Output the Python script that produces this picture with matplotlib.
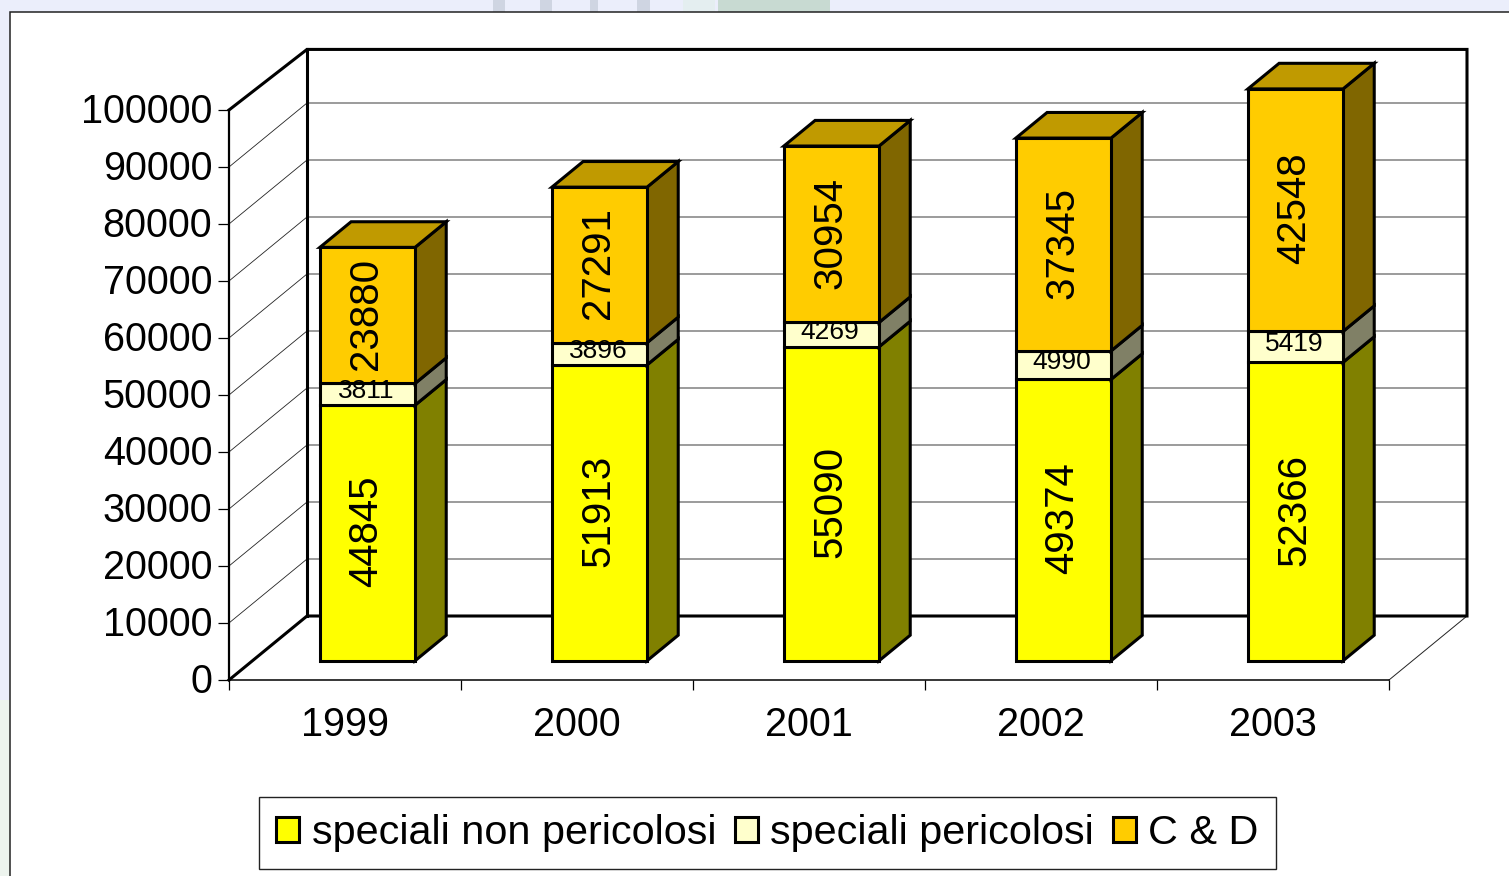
import matplotlib
matplotlib.use("Agg")
import matplotlib.pyplot as plt
from matplotlib.patches import Polygon, Patch, Rectangle
from matplotlib.transforms import ScaledTranslation

plt.rcParams['font.family'] = ['Liberation Sans', 'DejaVu Sans']

# dati
years = ['1999', '2000', '2001', '2002', '2003']
non_pericolosi = [44845, 51913, 55090, 49374, 52366]
pericolosi = [3811, 3896, 4269, 4990, 5419]
c_d = [23880, 27291, 30954, 37345, 42548]
series = [non_pericolosi, pericolosi, c_d]
series_names = ['speciali non pericolosi', 'speciali pericolosi', 'C & D']
yticks = list(range(0, 100001, 10000))

# colori: fronte, lato, sopra
front_colors = ['#FFFF00', '#FFFFCC', '#FFCC00']
side_colors = ['#808000', '#808066', '#806600']
top_color = '#C09A00'

W, H = 1509, 876
DEPTH_DX = 78 / 232   # profondita' in unita' di categoria
DEPTH_DY = 64 / 570 * 100000  # profondita' in unita' di valore
BAR_W = 0.41
D_FRONT, D_BACK = 0.30, 0.70


def pr(x, y, d=0.0):
    """Proietta (categoria, valore, profondita') sul piano dell'asse."""
    return (x + d * DEPTH_DX, y + d * DEPTH_DY)


def draw_background(fig):
    """Sfondo della diapositiva che si intravede attorno al pannello."""
    def band(x0, x1, y0, y1, color):
        fig.add_artist(Rectangle((x0 / W, 1 - y1 / H), (x1 - x0) / W, (y1 - y0) / H,
                                 transform=fig.transFigure, fc=color, ec='none', zorder=-2))
    for x0, x1 in [(493, 505), (540, 552), (590, 598), (637, 650)]:
        band(x0, x1, 0, 12, '#CFD5E2')
    band(683, 715, 0, 12, '#E4EEF0')
    band(718, 830, 0, 12, '#C8DAD2')
    band(0, 10, 700, 876, '#EDF4EE')
    fig.add_artist(Rectangle((10 / W, -0.01), 1.0, 1 - 12 / H + 0.01, transform=fig.transFigure,
                             fc='white', ec='#222222', lw=1.1, zorder=-1))


def draw_walls(ax):
    top = 99400  # il bordo alto della parete cade poco sotto i 100000
    for v in yticks[1:-1]:
        ax.plot(*zip(pr(0, v, 1), pr(5, v, 1)), color='#808080', lw=1.1, zorder=2, clip_on=False)
    for v in yticks[1:-1]:
        ax.plot(*zip(pr(0, v), pr(0, v, 1)), color='#222222', lw=0.6, zorder=2, clip_on=False)
    ax.plot(*zip(pr(5, 0), pr(5, 0, 1)), color='#222222', lw=0.7, zorder=2, clip_on=False)
    outline = [pr(0, 0), pr(0, 0, 1), pr(5, 0, 1), pr(5, top, 1), pr(0, top, 1), pr(0, 100000)]
    ax.plot(*zip(*outline), color='black', lw=2.2, zorder=3, clip_on=False,
            solid_joinstyle='miter')
    ax.plot(*zip(pr(0, 0, 1), pr(0, top, 1)), color='black', lw=2.2, zorder=3, clip_on=False)


def draw_bar(ax, i):
    left = i + 0.5 - 0.004 - BAR_W / 2
    right = left + BAR_W
    base = 0
    for k, values in enumerate(series):
        val = values[i]
        tip = base + val
        style = dict(closed=True, ec='black', lw=2.2, joinstyle='miter', zorder=4, clip_on=False)
        ax.add_patch(Polygon([pr(right, base, D_FRONT), pr(right, base, D_BACK),
                              pr(right, tip, D_BACK), pr(right, tip, D_FRONT)],
                             fc=side_colors[k], **style))
        ax.add_patch(Polygon([pr(left, base, D_FRONT), pr(right, base, D_FRONT),
                              pr(right, tip, D_FRONT), pr(left, tip, D_FRONT)],
                             fc=front_colors[k], **style))
        cx, cy = pr((left + right) / 2 - 0.006, base + val / 2, D_FRONT)
        if val > 10000:
            ax.text(cx, cy + 300, str(val), rotation=90, ha='center', va='center',
                    fontsize=29, zorder=6, clip_on=False)
        else:
            ax.text(cx, cy + 500, str(val), ha='center', va='center',
                    fontsize=19, zorder=6, clip_on=False)
        base = tip
    ax.add_patch(Polygon([pr(left, base, D_FRONT), pr(right, base, D_FRONT),
                          pr(right, base, D_BACK), pr(left, base, D_BACK)],
                         closed=True, fc=top_color, ec='black', lw=2.2,
                         joinstyle='miter', zorder=4, clip_on=False))


def main():
    fig = plt.figure(figsize=(W / 100, H / 100), dpi=100, facecolor='#EBEEFB')
    draw_background(fig)

    ax = fig.add_axes([229 / W, 1 - 680 / H, (1389 - 229) / W, 570 / H])
    ax.patch.set_alpha(0)
    ax.set_xlim(0, 5)
    ax.set_ylim(0, 100000)
    for s in ('top', 'right'):
        ax.spines[s].set_visible(False)
    ax.spines['left'].set_linewidth(1.6)
    ax.spines['bottom'].set_linewidth(1.1)

    ax.set_yticks(yticks)
    ax.set_yticklabels([str(v) for v in yticks], fontsize=28.5)
    ax.tick_params(axis='y', length=8, width=0.9, pad=4)
    # le etichette stanno un paio di pixel sopra la tacca
    up = ScaledTranslation(0, 2 / 100, fig.dpi_scale_trans)
    for lab in ax.get_yticklabels():
        lab.set_transform(lab.get_transform() + up)
    ax.set_xticks(range(6))
    ax.set_xticklabels([''] * 6)
    ax.tick_params(axis='x', which='major', length=7, width=0.9)
    ax.set_xticks([i + 0.5 for i in range(5)], minor=True)
    ax.set_xticklabels(years, minor=True, fontsize=28.5)
    ax.tick_params(axis='x', which='minor', length=0, pad=19)

    draw_walls(ax)
    for i in range(len(years)):
        draw_bar(ax, i)

    handles = [Patch(fc=c, ec='black', lw=2.2) for c in front_colors]
    leg = fig.legend(handles, series_names, ncols=3, loc='center',
                     bbox_to_anchor=(767.5 / W, 1 - 833 / H), fontsize=29.8,
                     fancybox=False, edgecolor='#222222', framealpha=1,
                     handlelength=0.56, handleheight=0.56, handletextpad=0.3,
                     columnspacing=0.45, borderpad=0.42, borderaxespad=0)
    leg.get_frame().set_linewidth(1.0)

    fig.savefig('out.png', dpi=100, facecolor=fig.get_facecolor())


if __name__ == "__main__":
    main()
